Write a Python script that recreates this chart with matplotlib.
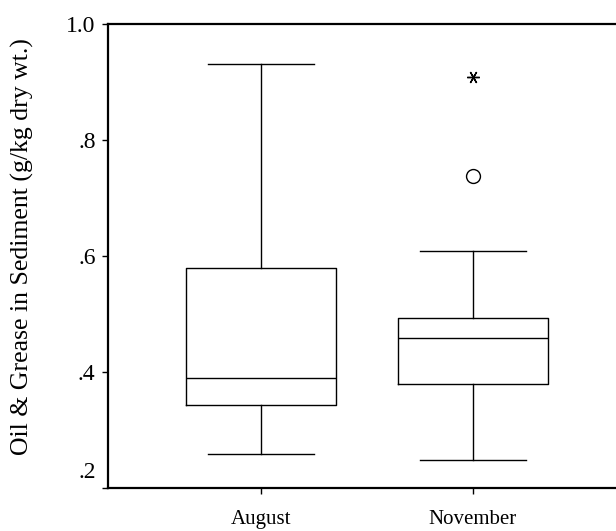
import matplotlib
matplotlib.use("Agg")
import matplotlib.pyplot as plt
import matplotlib.transforms as mtransforms

plt.rcParams['font.family'] = ['Liberation Serif', 'DejaVu Serif']

months = ["August", "November"]
whisker_low = [0.259, 0.248]
q1 = [0.343, 0.380]
median = [0.390, 0.459]
q3 = [0.579, 0.493]
whisker_high = [0.931, 0.609]
# outliers (circle) and extreme values (star) for November
outliers = {"November": [0.738]}
extremes = {"November": [0.909]}

yticks = [0.2, 0.4, 0.6, 0.8, 1.0]
ytick_labels = [".2", ".4", ".6", ".8", "1.0"]

fig = plt.figure(figsize=(6.16, 5.31), dpi=100)
ax = fig.add_axes([108 / 616, 43 / 531, 1 - 108 / 616, 464 / 531])

stats = []
for i, m in enumerate(months):
    stats.append(dict(label=m, med=median[i], q1=q1[i], q3=q3[i],
                      whislo=whisker_low[i], whishi=whisker_high[i], fliers=[]))

line = dict(color="black", linewidth=1.0)
ax.bxp(stats, positions=[1, 2], widths=0.708, showfliers=False,
       boxprops=line, medianprops=line, whiskerprops=line,
       capprops=line, capwidths=0.5)

for i, m in enumerate(months):
    for v in outliers.get(m, []):
        ax.plot(i + 1, v, marker="o", ms=10, mfc="none", mec="black", mew=1.0)
    for v in extremes.get(m, []):
        ax.plot(i + 1, v, marker=(6, 2, 90), ms=9, color="black", mew=1.0)

ax.set_xlim(0.278, 2.675)
ax.set_ylim(0.2, 1.0)
ax.set_yticks(yticks)
ax.set_yticklabels(ytick_labels)
ax.set_xticks([1, 2])
ax.set_xticklabels(months)

ax.spines["right"].set_visible(False)
for s in ["left", "top", "bottom"]:
    ax.spines[s].set_linewidth(1.6)

ax.tick_params(axis="y", length=4, width=1.0, labelsize=17, pad=5)
ax.tick_params(axis="x", length=4, width=1.0, labelsize=15, pad=12)

# the bottom label sits a little above the axis line
lab = ax.get_yticklabels()[0]
lab.set_transform(lab.get_transform() +
                  mtransforms.ScaledTranslation(0, 18 / 100, fig.dpi_scale_trans))

fig.text(22 / 616, 1 - 247 / 531, "Oil & Grease in Sediment (g/kg dry wt.)",
         rotation=90, ha="center", va="center", fontsize=18.5)

fig.savefig("out.png", dpi=100)
